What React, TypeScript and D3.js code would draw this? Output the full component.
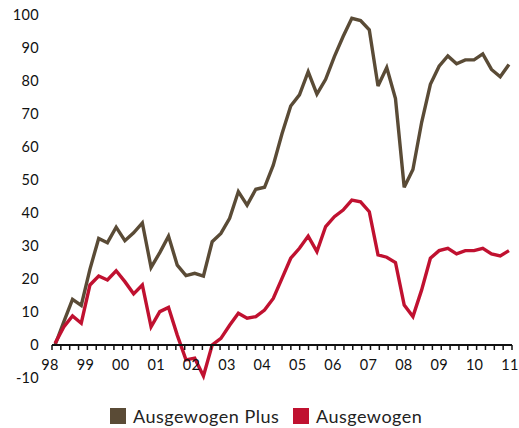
import React from 'react';
import * as d3 from 'd3';

// quarterly values, 1998 - 2010
const plusValues = [
  0, 7, 13.8, 12, 23, 32.3, 31, 35.7, 31.6, 34, 37, 23.5, 28, 33, 24.2, 21, 21.7, 20.9,
  31.3, 33.8, 38.4, 46.5, 42.4, 47.2, 47.8, 54.5, 64, 72.4, 75.8, 82.8, 76, 80.5, 87.4,
  93.5, 99, 98.3, 95.5, 78.5, 84.1, 74.7, 47.8, 53.2, 67.5, 79, 84.5, 87.6, 85.2, 86.4,
  86.4, 88.2, 83.5, 81.3, 85,
];
const baseValues = [
  0.5, 5.5, 8.8, 6.6, 18.2, 20.9, 19.7, 22.5, 19.2, 15.5, 18.2, 5.5, 10.1, 11.4, 3, -4.5,
  -4, -9.4, 0, 2, 6, 9.6, 8.1, 8.6, 10.6, 14.1, 20.2, 26.3, 29.3, 33, 28.3, 35.9, 38.9,
  40.9, 43.9, 43.4, 40.4, 27.3, 26.6, 25, 12.1, 8.6, 16.7, 26.3, 28.6, 29.3, 27.6, 28.6,
  28.6, 29.3, 27.6, 27, 28.6,
];
const yearLabels = ['98', '99', '00', '01', '02', '03', '04', '05', '06', '07', '08', '09', '10', '11'];
const yTicks = [-10, 0, 10, 20, 30, 40, 50, 60, 70, 80, 90, 100];
const seriesNames = ['Ausgewogen Plus', 'Ausgewogen'];
const colors = ['#5a4b36', '#c01130'];

const W = 519, H = 428;
const font = 'Lato, "Open Sans", sans-serif';

export default function App() {
  const quarters = (yearLabels.length - 1) * 4;
  const x = d3.scaleLinear().domain([0, quarters]).range([52, 512]);
  const xi = d3.scaleLinear().domain([-0.35, plusValues.length - 0.65]).range(x.range());
  const y = d3.scaleLinear().domain([-10, 100]).range([378, 15]);
  const line = d3.line<number>().x((_, i) => xi(i)).y(d => y(d));
  const series = [plusValues, baseValues];

  return (
    <div style={{ position: 'absolute', left: 0, top: 0 }}>
      <svg width={W} height={H} style={{ display: 'block', fontFamily: font }}>
        {yTicks.map(t => (
          <text key={t} x={39} y={y(t)} dy="0.36em" textAnchor="end" fontSize={14.5}
            letterSpacing={0.3} fill="#111">
            {t}
          </text>
        ))}
        {series.map((s, k) => (
          <path key={k} d={line(s) || ''} fill="none" stroke={colors[k]} strokeWidth={3.4}
            strokeLinejoin="miter" strokeMiterlimit={3} />
        ))}
        <line x1={x(0)} x2={x(quarters)} y1={y(0)} y2={y(0)} stroke="#111" strokeWidth={2} />
        {d3.range(quarters + 1).map(q => (
          <line key={q} x1={x(q)} x2={x(q)} y1={y(0)} y2={y(0) + 5} stroke="#111" strokeWidth={1.5} />
        ))}
        {yearLabels.map((l, i) => (
          <text key={l} x={x(i * 4) - 2} y={370} textAnchor="middle" fontSize={14.5}
            letterSpacing={0.3} fill="#111">
            {l}
          </text>
        ))}
        {seriesNames.map((n, k) => {
          const lx = k === 0 ? 110 : 293;
          return (
            <g key={n} transform={`translate(${lx},408)`}>
              <rect width={16} height={16} fill={colors[k]} />
              <text x={23} y={14.5} fontSize={18} letterSpacing={0.5} fill="#222">{n}</text>
            </g>
          );
        })}
      </svg>
    </div>
  );
}
